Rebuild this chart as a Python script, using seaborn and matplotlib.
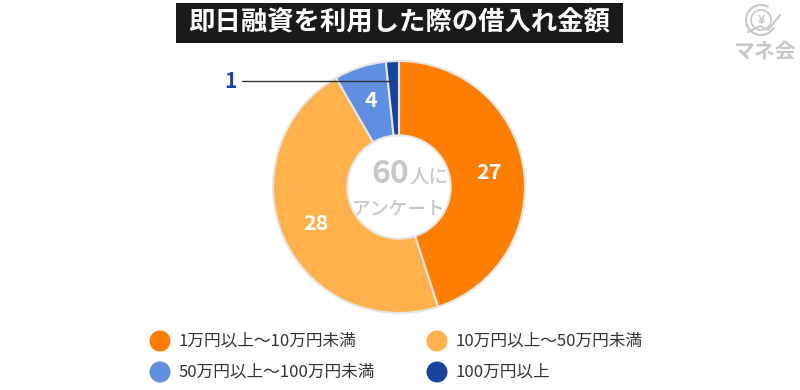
import matplotlib
matplotlib.use("Agg")
import matplotlib.pyplot as plt
import seaborn as sns
import numpy as np
from matplotlib.patches import Circle, Rectangle, Arc, Ellipse

sns.set_theme(style="white")
plt.rcParams['font.family'] = ['Noto Sans CJK JP', 'DejaVu Sans']

title = "即日融資を利用した際の借入れ金額"
categories = ["1万円以上〜10万円未満", "10万円以上〜50万円未満", "50万円以上〜100万円未満", "100万円以上"]
values = [27, 28, 4, 1]
colors = ["#FD7E00", "#FFB24C", "#5E8FE3", "#1844A0"]
center_big = "60"
center_small = "人に"
center_line2 = "アンケート"

W, H = 800, 390
fig = plt.figure(figsize=(W / 100, H / 100), dpi=100)
fig.patch.set_facecolor("white")

cx, cy, R = 399, 187, 126
ax = fig.add_axes([(cx - R) / W, (H - cy - R) / H, 2 * R / W, 2 * R / H])

wedges, _ = ax.pie(values, colors=colors, startangle=90, counterclock=False, radius=1.0,
                   wedgeprops=dict(width=0.59, edgecolor="#e6e6e6", linewidth=1.5))
ax.set_xlim(-1, 1)
ax.set_ylim(-1, 1)
ax.set_aspect("equal")
ax.axis("off")

for w, v in zip(wedges, values):
    ang = np.deg2rad((w.theta1 + w.theta2) / 2)
    if v >= 3:
        r = 0.72
        ax.text(r * np.cos(ang), r * np.sin(ang), str(v), ha="center", va="center",
                color="white", fontsize=15.5, fontweight="bold")
    else:
        r = 0.84
        x0, y0 = r * np.cos(ang), r * np.sin(ang)
        ax.plot([x0, -1.25], [y0, y0], color="#333333", lw=1, clip_on=False)
        ax.text(-1.29, y0, str(v), ha="right", va="center", color=colors[3],
                fontsize=15, fontweight="bold", clip_on=False)

# center text
ax.text(0.08, 0.03, center_big, ha="right", va="baseline", color="#c8c8c8", fontsize=23, fontweight="bold")
ax.text(0.08, 0.03, center_small, ha="left", va="baseline", color="#c8c8c8", fontsize=14, fontweight="medium")
ax.text(0.0, -0.17, center_line2, ha="center", va="center", color="#c8c8c8", fontsize=13.5, fontweight="medium")

# title box
fig.patches.append(Rectangle((176 / W, 1 - 43 / H), (623 - 176) / W, 40 / H,
                             transform=fig.transFigure, facecolor="#1a1a1a", edgecolor="none"))
fig.text(399.5 / W, 1 - 23 / H, title, ha="center", va="center", color="white",
         fontsize=19, fontweight="bold")

# legend
leg_pos = [(160, 341), (437, 341), (160, 372), (437, 372)]
for (lx, ly), c, lab in zip(leg_pos, colors, categories):
    fig.patches.append(Ellipse((lx / W, 1 - ly / H), 21 / W, 21 / H, transform=fig.transFigure,
                               facecolor=c, edgecolor="none"))
    fig.text((lx + 19) / W, 1 - ly / H, lab, ha="left", va="center",
             color="#333333", fontsize=12)

# logo
logo_ax = fig.add_axes([730 / W, 1 - 62 / H, 66 / W, 60 / H])
logo_ax.set_xlim(0, 66)
logo_ax.set_ylim(0, 60)
logo_ax.axis("off")
logo_ax.add_patch(Arc((31, 42), 30, 30, theta1=60, theta2=330, color="#c8c8c8", lw=1.5))
logo_ax.add_patch(Circle((31, 42), 10, facecolor="none", edgecolor="#c8c8c8", lw=1.2))
logo_ax.text(31, 42, "¥", ha="center", va="center", color="#c8c8c8", fontsize=9, fontweight="bold")
logo_ax.plot([18, 30, 38, 50], [30, 36, 32, 47], color="#c8c8c8", lw=1.5)
logo_ax.text(34, 10, "マネ会", ha="center", va="center", color="#c8c8c8", fontsize=15, fontweight="bold")

fig.savefig("out.png", dpi=100, facecolor="white")
